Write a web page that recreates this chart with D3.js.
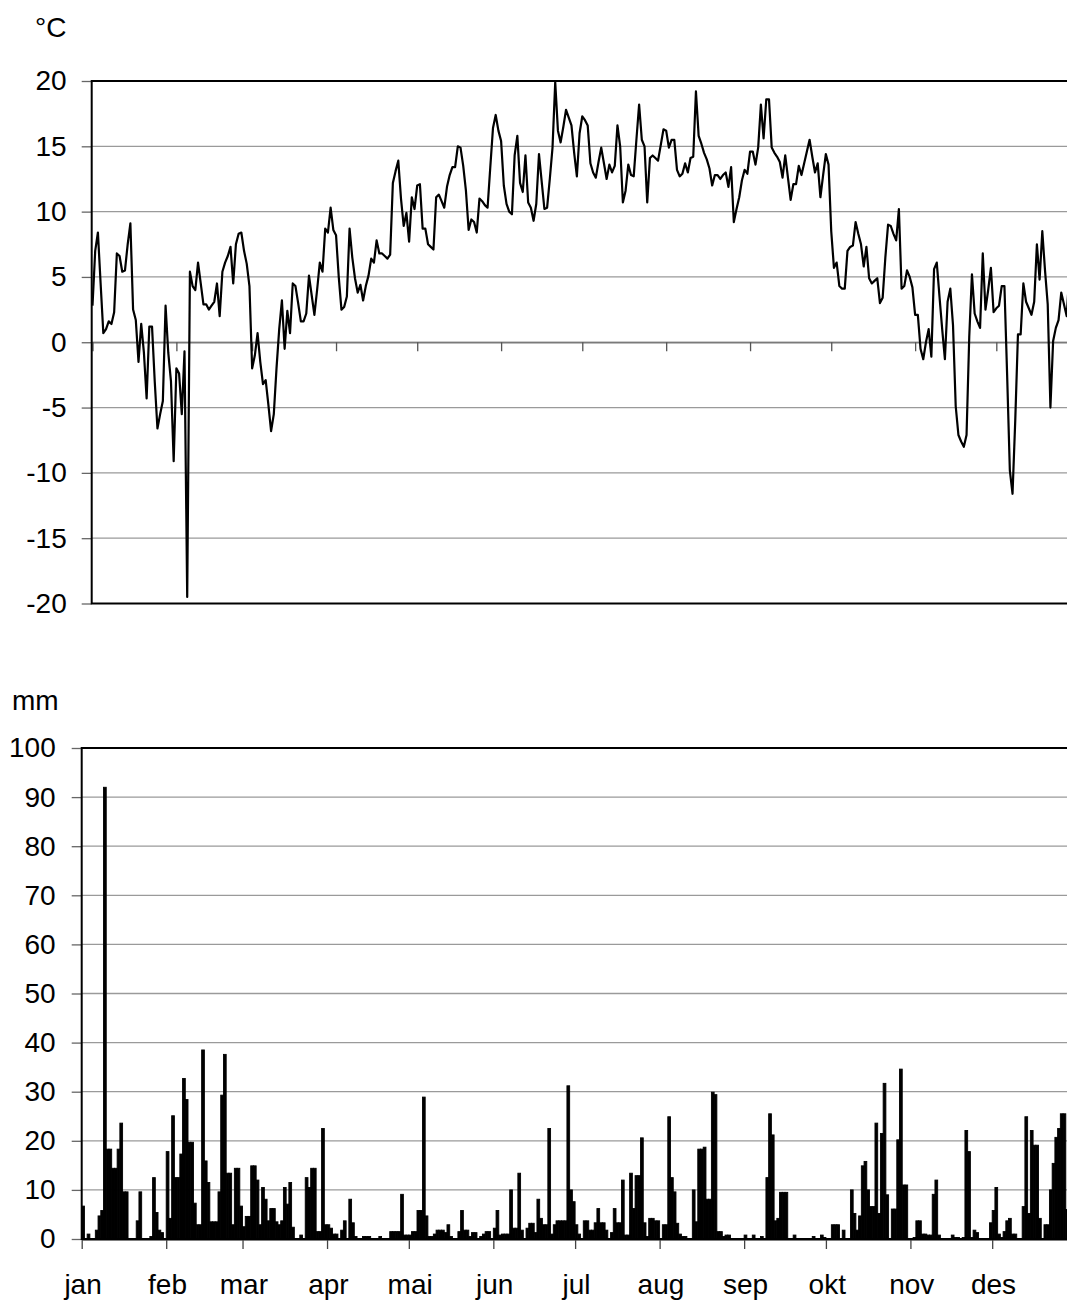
<!DOCTYPE html>
<html>
<head>
<meta charset="utf-8">
<script src="https://cdn.jsdelivr.net/npm/d3@7"></script>
<style>
  body { margin: 0; background: #fff; }
  text { font-family: "Liberation Sans", Arial, sans-serif; }
</style>
</head>
<body>
<script>
// month labels and the day index where each month starts
let months = ['jan', 'feb', 'mar', 'apr', 'mai', 'jun', 'jul', 'aug', 'sep', 'okt', 'nov', 'des'];
let monthStarts = [0, 31, 59, 90, 120, 151, 181, 212, 243, 273, 304, 334];

let tempTicks = [20, 15, 10, 5, 0, -5, -10, -15, -20];
let rainTicks = [0, 10, 20, 30, 40, 50, 60, 70, 80, 90, 100];

// daily mean temperature, ºC
let temperature = [
  2.8, 7.0, 8.4, 4.5, 0.7, 1.0, 1.6, 1.4, 2.3, 6.8,
  6.6, 5.4, 5.5, 7.5, 9.1, 2.5, 1.7, -1.5, 1.4, -0.8,
  -4.3, 1.2, 1.2, -3.0, -6.6, -5.5, -4.5, 2.8, -0.8, -3.0,
  -9.1, -2.0, -2.4, -5.5, -0.7, -19.5, 5.4, 4.3, 4.0, 6.1,
  4.5, 2.9, 2.9, 2.5, 2.8, 3.1, 4.5, 2.0, 5.4, 6.1,
  6.6, 7.3, 4.5, 7.5, 8.3, 8.4, 7.0, 6.0, 4.3, -2.0,
  -1.0, 0.7, -1.5, -3.2, -2.9, -4.8, -6.8, -5.5, -2.0, 1.0,
  3.2, -0.5, 2.4, 0.7, 4.5, 4.3, 3.0, 1.6, 1.6, 2.2,
  5.1, 3.6, 2.1, 4.0, 6.1, 5.4, 8.7, 8.4, 10.3, 8.6,
  8.2, 5.0, 2.5, 2.7, 3.5, 8.7, 6.5, 4.9, 3.8, 4.4,
  3.2, 4.3, 5.1, 6.4, 6.1, 7.8, 6.8, 6.8, 6.6, 6.4,
  6.7, 12.2, 13.1, 13.9, 11.0, 8.9, 9.9, 7.7, 11.1, 10.2,
  12.0, 12.1, 8.7, 8.7, 7.5, 7.3, 7.1, 11.1, 11.3, 10.8,
  10.3, 11.9, 12.8, 13.4, 13.4, 15.0, 14.9, 13.5, 11.6, 8.6,
  9.4, 9.2, 8.4, 11.0, 10.8, 10.5, 10.3, 13.4, 16.4, 17.4,
  16.2, 15.4, 12.0, 10.6, 10.0, 9.8, 14.3, 15.8, 12.2, 11.5,
  14.3, 10.7, 10.3, 9.3, 10.6, 14.4, 12.3, 10.2, 10.3, 12.5,
  14.9, 19.9, 16.2, 15.3, 16.5, 17.8, 17.2, 16.6, 14.5, 12.7,
  16.0, 17.3, 17.0, 16.6, 13.7, 13.0, 12.6, 13.8, 14.9, 13.7,
  12.5, 13.6, 13.0, 13.5, 16.6, 15.0, 10.7, 11.6, 13.6, 12.8,
  12.7, 15.5, 18.2, 15.5, 15.0, 10.7, 14.1, 14.3, 14.1, 13.9,
  15.1, 16.3, 16.2, 14.9, 15.5, 15.5, 13.2, 12.7, 12.9, 13.7,
  13.0, 14.1, 14.2, 19.2, 15.8, 15.2, 14.5, 14.0, 13.3, 12.0,
  12.8, 12.8, 12.5, 12.8, 13.0, 11.9, 13.4, 9.2, 10.2, 11.1,
  12.4, 13.2, 12.9, 14.6, 14.6, 13.6, 14.9, 18.2, 15.6, 18.6,
  18.6, 14.9, 14.5, 14.2, 13.8, 12.6, 14.3, 12.6, 10.9, 12.1,
  12.1, 13.5, 12.8, 13.7, 14.6, 15.5, 14.2, 13.0, 13.7, 11.1,
  12.8, 14.4, 13.6, 8.5, 5.7, 6.1, 4.3, 4.1, 4.1, 7.0,
  7.3, 7.4, 9.2, 8.3, 7.5, 5.8, 7.3, 4.9, 4.5, 4.7,
  4.9, 3.0, 3.4, 6.5, 9.0, 8.9, 8.3, 7.8, 10.2, 4.1,
  4.3, 5.5, 5.0, 4.2, 2.1, 2.1, -0.5, -1.3, 0.0, 1.0,
  -1.1, 5.6, 6.1, 3.5, 1.0, -1.3, 3.1, 4.1, 1.3, -4.9,
  -7.1, -7.6, -8.0, -7.1, 0.4, 5.2, 2.2, 1.6, 1.1, 6.8,
  2.5, 4.0, 5.7, 2.3, 2.6, 2.8, 4.3, 4.3, -2.5, -9.8,
  -11.6, -6.0, 0.6, 0.6, 4.5, 3.1, 2.6, 2.1, 3.1, 7.5,
  4.8, 8.5, 5.5, 2.9, -5.0, 0.1, 1.1, 1.7, 3.8, 2.9,
  2.0, 5.2, 4.0, 3.0, 2.5
];

// daily precipitation, mm
let precipitation = [
  6.7, 0, 1.0, 0, 0, 1.8, 4.7, 5.8, 92, 18.3,
  18.3, 14.4, 14.4, 18.3, 23.6, 9.6, 9.6, 0, 0, 0,
  3.7, 9.6, 0, 0, 0, 0.5, 12.5, 5.4, 1.8, 1.3,
  0, 17.8, 4.2, 25.1, 12.5, 12.5, 17.3, 32.7, 28.4, 19.7,
  19.7, 7.3, 2.9, 2.9, 38.5, 15.9, 11.5, 3.5, 3.5, 3.5,
  9.6, 29.3, 37.6, 13.4, 13.4, 2.9, 14.4, 14.4, 6.7, 2.5,
  4.6, 4.6, 14.9, 14.9, 12.0, 2.9, 10.5, 8.1, 3.7, 6.2,
  6.2, 3.5, 2.9, 3.7, 10.5, 7.1, 11.5, 2.4, 0, 0,
  0.8, 0, 12.5, 10.5, 14.4, 14.4, 1.5, 1.5, 22.5, 2.9,
  2.9, 2.2, 1.0, 1.0, 0, 1.8, 3.7, 0, 8.1, 3.3,
  0.5, 0, 0, 0.5, 0.5, 0.5, 0, 0, 0, 0.5,
  0, 0, 0, 1.5, 1.5, 1.5, 1.5, 9.1, 0.8, 0.8,
  0.8, 1.5, 1.5, 5.8, 5.8, 28.9, 4.7, 0.5, 0.5, 1.0,
  1.8, 1.8, 1.8, 1.3, 2.9, 0.5, 0, 0, 1.5, 5.8,
  1.8, 1.8, 0.5, 1.3, 1.3, 0, 0.5, 1.0, 1.5, 1.5,
  0, 2.2, 5.8, 0.8, 1.0, 1.0, 1.0, 10.0, 2.2, 2.2,
  13.4, 1.8, 0, 2.2, 3.2, 3.2, 1.3, 8.1, 4.2, 2.9,
  2.9, 22.5, 1.0, 2.9, 3.7, 3.7, 3.7, 3.7, 31.2, 10.0,
  7.6, 2.9, 1.0, 0, 3.7, 3.7, 1.8, 1.8, 3.3, 6.2,
  3.3, 3.3, 1.8, 0, 1.3, 6.2, 3.3, 3.3, 12.0, 0.8,
  0.8, 13.4, 6.2, 12.9, 12.9, 20.6, 3.3, 0.5, 4.2, 4.2,
  3.7, 3.7, 0, 2.9, 2.9, 24.9, 12.5, 9.6, 3.2, 1.0,
  0.5, 0.5, 0, 0, 10.0, 3.5, 18.3, 18.3, 18.7, 8.1,
  8.1, 29.9, 29.4, 1.5, 1.5, 0.5, 0.8, 0.8, 0, 0,
  0, 0, 0, 0.8, 0, 0, 0.8, 0, 0, 0.5,
  0, 12.5, 25.5, 21.2, 3.7, 4.2, 9.5, 9.5, 9.5, 0,
  0, 0.8, 0, 0, 0, 0, 0, 0, 0.5, 0,
  0, 0.8, 0.3, 0, 0, 2.9, 2.9, 2.9, 0, 1.8,
  0, 0, 10.0, 5.2, 1.8, 4.7, 14.9, 15.8, 10.0, 6.6,
  6.6, 23.6, 5.2, 21.5, 31.7, 9.0, 0, 6.1, 6.1, 20.2,
  34.6, 11.0, 11.0, 0, 0, 0.3, 3.7, 3.7, 1.0, 1.0,
  0.8, 0.8, 9.1, 12.0, 0.8, 0, 0, 0, 0, 0.8,
  0.3, 0.3, 0, 0.3, 22.1, 17.8, 0.3, 1.8, 1.3, 0,
  0, 0, 0, 3.3, 5.8, 10.5, 1.0, 0.3, 1.5, 3.7,
  4.2, 1.0, 1.0, 0, 0, 6.6, 24.9, 5.2, 22.1, 19.1,
  19.1, 4.2, 0, 2.9, 2.9, 10.0, 15.4, 20.7, 22.5, 25.5,
  25.5, 6.0, 0, 0, 2.0
];

let svg = d3.select('body').append('svg').attr('width', 1067).attr('height', 1301);
let plainNumber = d => String(d);
let fontSize = '28px';

// ---------- temperature panel ----------
let frameLeftT = 91.7;
let xT = d3.scaleLinear().domain([0, 365]).range([92.5, 92.5 + 365 * 2.706]);
let yT = d3.scaleLinear().domain([-20, 20]).range([603.5, 81]);

svg.append('g').selectAll('line').data(tempTicks.filter(d => d !== 20 && d !== -20)).enter()
  .append('line')
  .attr('x1', frameLeftT).attr('x2', xT(365))
  .attr('y1', d => yT(d)).attr('y2', d => yT(d))
  .attr('stroke', '#9a9a9a').attr('stroke-width', 1.3);

let axT = svg.append('g').attr('transform', 'translate(0,' + yT(0) + ')')
  .call(d3.axisBottom(xT).tickValues(monthStarts).tickSize(9).tickSizeOuter(0).tickFormat(''));
axT.select('.domain').attr('stroke', '#7a7a7a').attr('stroke-width', 1.3);
axT.selectAll('.tick line').attr('stroke', '#555').attr('stroke-width', 1.3);

svg.append('path').datum(temperature)
  .attr('d', d3.line().x((d, i) => xT(i)).y(d => yT(d)))
  .attr('fill', 'none').attr('stroke', '#000').attr('stroke-width', 2.2)
  .attr('stroke-linejoin', 'round');

let ayT = svg.append('g').attr('transform', 'translate(' + frameLeftT + ',0)')
  .call(d3.axisLeft(yT).tickValues(tempTicks).tickFormat(plainNumber)
    .tickSize(10).tickPadding(15).tickSizeOuter(0));
ayT.select('.domain').remove();
ayT.selectAll('.tick line').attr('stroke', '#666').attr('stroke-width', 1.3);
ayT.selectAll('text').attr('font-size', fontSize).attr('fill', '#000')
  .attr('font-family', '"Liberation Sans", Arial, sans-serif');

svg.append('rect').attr('x', frameLeftT).attr('y', yT(20))
  .attr('width', xT(365) - frameLeftT).attr('height', yT(-20) - yT(20))
  .attr('fill', 'none').attr('stroke', '#000').attr('stroke-width', 2);

svg.append('text').attr('x', 35).attr('y', 37).attr('font-size', fontSize).text('°C');

// ---------- precipitation panel ----------
let xB = d3.scaleBand().domain(d3.range(365)).range([81.7, 1076.7]).padding(0);
let xBl = d3.scaleLinear().domain([0, 365]).range([81.7, 1076.7]);
let yB = d3.scaleLinear().domain([0, 100]).range([1239, 748]);

svg.append('g').selectAll('line').data(rainTicks.filter(d => d !== 0 && d !== 100)).enter()
  .append('line')
  .attr('x1', xBl(0)).attr('x2', xBl(365))
  .attr('y1', d => yB(d)).attr('y2', d => yB(d))
  .attr('stroke', '#9a9a9a').attr('stroke-width', 1.3);

svg.append('g').selectAll('rect')
  .data(precipitation.map((v, i) => ({ day: i, v: v })).filter(d => d.v > 0))
  .enter().append('rect')
  .attr('x', d => xB(d.day))
  .attr('width', xB.bandwidth())
  .attr('y', d => yB(d.v))
  .attr('height', d => yB(0) - yB(d.v))
  .attr('fill', '#000').attr('stroke', '#000').attr('stroke-width', 0.9);

let axB = svg.append('g').attr('transform', 'translate(0,' + yB(0) + ')')
  .call(d3.axisBottom(xBl).tickValues(monthStarts).tickSize(10).tickSizeOuter(0).tickFormat(''));
axB.select('.domain').attr('stroke', '#000').attr('stroke-width', 2);
axB.selectAll('.tick line').attr('stroke', '#444').attr('stroke-width', 1.3);

svg.append('g').selectAll('text').data(monthStarts).enter()
  .append('text')
  .attr('x', d => xBl(d + 0.5))
  .attr('y', 1294)
  .attr('text-anchor', 'middle')
  .attr('font-size', fontSize)
  .text((d, i) => months[i]);

let ayB = svg.append('g').attr('transform', 'translate(' + xBl(0) + ',0)')
  .call(d3.axisLeft(yB).tickValues(rainTicks).tickFormat(plainNumber)
    .tickSize(10).tickPadding(16).tickSizeOuter(0));
ayB.select('.domain').remove();
ayB.selectAll('.tick line').attr('stroke', '#666').attr('stroke-width', 1.3);
ayB.selectAll('text').attr('font-size', fontSize).attr('fill', '#000')
  .attr('font-family', '"Liberation Sans", Arial, sans-serif');

svg.append('rect').attr('x', xBl(0)).attr('y', yB(100))
  .attr('width', xBl(365) - xBl(0)).attr('height', yB(0) - yB(100))
  .attr('fill', 'none').attr('stroke', '#000').attr('stroke-width', 2);

svg.append('text').attr('x', 12).attr('y', 710).attr('font-size', fontSize).text('mm');
</script>
</body>
</html>
